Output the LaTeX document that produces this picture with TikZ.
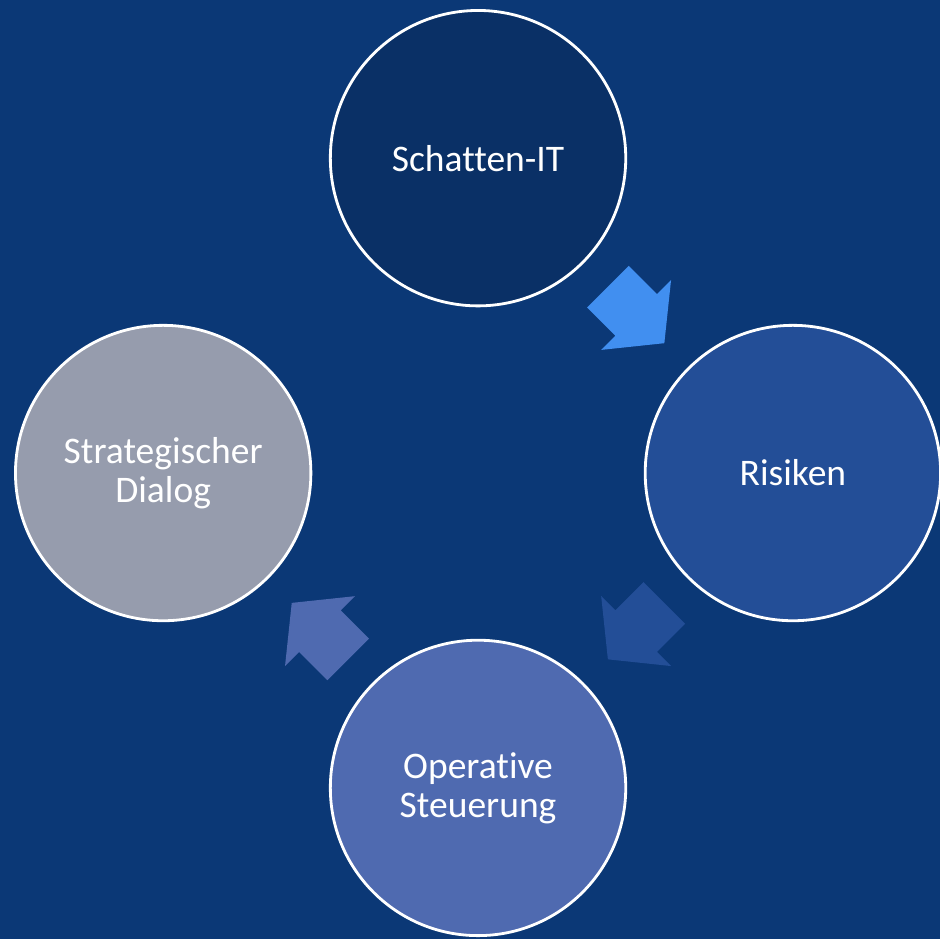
\documentclass[tikz,border=0pt]{standalone}
\usepackage{fontspec}
\setmainfont{Carlito}[Ligatures=NoCommon]
\usetikzlibrary{calc,positioning}

\definecolor{bgblue}{RGB}{11,56,118}
\definecolor{topblue}{RGB}{10,48,102}
\definecolor{riskblue}{RGB}{35,78,151}
\definecolor{opblue}{RGB}{79,106,176}
\definecolor{dialoggray}{RGB}{150,156,173}
\definecolor{arrowlight}{RGB}{65,143,240}

\tikzset{
	stage/.style={circle, draw=white, line width=0.8pt, minimum size=2.96cm, inner sep=0pt,
		text=white, align=center, font=\fontsize{10.7}{11.1}\selectfont},
	cyclearrow/.pic={
		\fill (-0.40,-0.295) -- (0,-0.295) -- (0,-0.495) -- (0.40,0)
			-- (0,0.495) -- (0,0.295) -- (-0.40,0.295) -- cycle;
	}
}

\begin{document}
\begin{tikzpicture}
		% background
		\fill [bgblue] (0,0) rectangle (9.42,9.41);
		\coordinate (hub) at (4.79,4.67);
		% stages
		\node [stage, fill=topblue] (schatten) at ($(hub)+(90:3.155)$) {Schatten-IT};
		\node [stage, fill=riskblue] (risiken) at ($(hub)+(0:3.155)$) {Risiken};
		\node [stage, fill=opblue] (steuerung) at ($(hub)+(-90:3.155)$) {Operative\\Steuerung};
		\node [stage, fill=dialoggray] (dialog) at ($(hub)+(180:3.155)$) {Strategischer\\Dialog};
		% arrows
		\pic [fill=arrowlight, rotate=-45] at ($(hub)+(45:2.24)$) {cyclearrow};
		\pic [fill=riskblue, rotate=-135] at ($(hub)+(-45:2.24)$) {cyclearrow};
		\pic [fill=opblue, rotate=135] at ($(hub)+(-135:2.24)$) {cyclearrow};
	\end{tikzpicture}
\end{document}
